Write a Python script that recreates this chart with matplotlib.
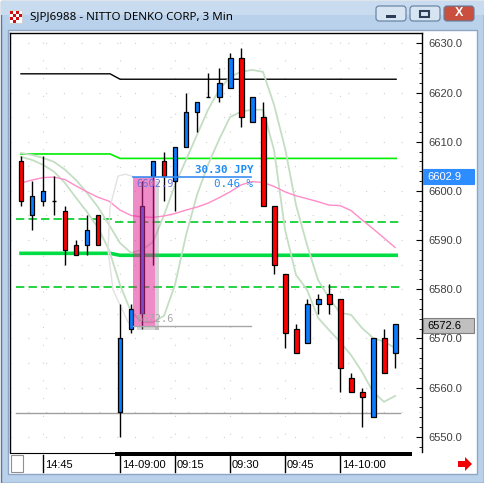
import matplotlib.pyplot as plt
from matplotlib.patches import Rectangle, FancyBboxPatch, Polygon
import matplotlib.transforms as mtransforms

plt.rcParams['font.family'] = ['Liberation Sans', 'DejaVu Sans']

title = 'SJPJ6988 - NITTO DENKO CORP, 3 Min'

# 3 min candles (slot 8 is the overnight gap)
bar_idx = [0, 1, 2, 3, 4, 5, 6, 7,
           9, 10, 11, 12, 13, 14, 15, 16, 17, 18, 19, 20, 21,
           22, 23, 24, 25, 26, 27, 28, 29, 30, 31, 32, 33, 34]
opens = [6606, 6595, 6598, 6598, 6596, 6589, 6589, 6595,
         6555, 6572, 6575, 6603, 6606, 6602, 6609, 6616, 6619, 6619, 6621, 6627, 6614,
         6615, 6597, 6583, 6572, 6569, 6577, 6579, 6578, 6562, 6559, 6554, 6570, 6567]
highs = [6607, 6602, 6607, 6603, 6597, 6590, 6595, 6595,
         6577, 6577, 6602, 6606, 6608, 6609, 6620, 6618, 6624, 6625, 6628, 6629, 6619,
         6618, 6597, 6583, 6573, 6578, 6579, 6581, 6578, 6563, 6560, 6570, 6572, 6573]
lows = [6597, 6592, 6597, 6595, 6585, 6587, 6587, 6589,
        6550, 6571, 6572, 6585, 6598, 6596, 6609, 6612, 6619, 6618, 6621, 6613, 6614,
        6597, 6583, 6568, 6567, 6569, 6575, 6575, 6559, 6559, 6552, 6554, 6563, 6564]
closes = [6598, 6599, 6600, 6598, 6588, 6587, 6592, 6589,
          6570, 6576, 6597, 6606, 6603, 6609, 6616, 6618, 6619, 6622, 6627, 6615, 6619,
          6597, 6585, 6571, 6567, 6577, 6578, 6577, 6564, 6559, 6558, 6570, 6563, 6573]

line_idx = list(range(35))
ma_pink = [6601.6, 6602.2, 6602.7, 6602.8, 6602.3, 6601.0, 6599.8, 6598.7, 6597.9,
           6596.1, 6595.0, 6594.7, 6594.6, 6594.9, 6595.4, 6596.1, 6596.7, 6597.5,
           6598.6, 6599.8, 6601.2, 6601.9, 6601.7, 6600.9, 6599.8, 6599.0, 6598.4,
           6597.8, 6597.1, 6597.0, 6596.0, 6594.1, 6592.3, 6590.4, 6588.5]
ma_fast = [6607.7, 6607.3, 6606.7, 6605.9, 6604.3, 6602.2, 6599.6, 6596.7, 6593.1,
           6589.4, 6587.4, 6588.0, 6589.6, 6595.1, 6601.2, 6606.3, 6611.4, 6616.5,
           6620.5, 6623.2, 6624.2, 6624.6, 6624.2, 6617.5, 6608.7, 6597.1, 6589.0,
           6581.9, 6578.2, 6575.2, 6574.8, 6572.1, 6570.1, 6569.3, 6568.1]
ma_slow = [6606.9, 6606.3, 6605.3, 6603.9, 6601.6, 6598.6, 6595.7, 6592.5, 6588.0,
           6580.9, 6575.4, 6573.3, 6573.3, 6574.6, 6580.9, 6591.0, 6599.2, 6605.3,
           6610.4, 6615.0, 6616.1, 6616.5, 6616.5, 6608.3, 6592.1, 6582.9, 6579.9,
           6574.2, 6571.7, 6569.3, 6566.6, 6563.2, 6559.1, 6557.1, 6558.3]
arc_x = [10.18, 9.5, 8.82, 8.09, 7.91, 8.36, 9.73, 10.18]
arc_y = [6602.9, 6603.4, 6603.0, 6596.7, 6588.0, 6579.9, 6573.3, 6572.7]

# pivot style levels: previous session / today
level_prev = [6623.8, 6607.5, 6594.2, 6587.3]
level_today = [6622.7, 6606.6, 6593.7, 6586.9]
level_dash_low = 6580.4
level_gray = 6554.8

measure_hi = 6602.9
measure_lo = 6572.6
measure_txt = ['30.30 JPY', '0.46 %']

tick_pos = [2, 9, 14, 19, 24, 29]
tick_labels = ['14:45', '14-09:00', '09:15', '09:30', '09:45', '14-10:00']
y_ticks = [6550, 6560, 6570, 6580, 6590, 6600, 6610, 6620, 6630]

W, H = 485, 483
fig = plt.figure(figsize=(W / 100, H / 100), dpi=100)

# window chrome drawn in pixel coords
bg = fig.add_axes([0, 0, 1, 1], zorder=-1)
bg.set_xlim(0, W)
bg.set_ylim(H, 0)
bg.axis('off')
bg.add_patch(Rectangle((0.5, 0.5), W - 1, H - 1, fc='#B9D1EA', ec='#5B7897', lw=1))
bg.add_patch(Rectangle((1, 1), W - 2, 14, fc='#C9DBEF', ec='none'))
bg.add_patch(Rectangle((8, 30), 469, 444, fc='white', ec='#8EA6C4', lw=1))
bg.text(30, 17, title, fontsize=8.3, family=['Noto Sans', 'DejaVu Sans'], va='center', ha='left', color='black')
# icon
bg.add_patch(Rectangle((9, 10), 13, 13, fc='white', ec='#C8C8C8', lw=0.5))
for (ix, iy) in [(10, 11), (16, 11), (13, 14), (10, 17), (16, 17), (13, 20), (19, 14)]:
    bg.add_patch(Rectangle((ix, iy), 3, 2.5, fc='#D01010', ec='none'))
# buttons
for bx, fc in [(376, '#D7E4F2'), (410, '#D7E4F2'), (444, '#C9503F')]:
    bg.add_patch(FancyBboxPatch((bx, 6), 30, 15, boxstyle='round,pad=0,rounding_size=3',
                                fc=fc, ec='#5F7D9E', lw=0.8))
bg.add_patch(Rectangle((386, 15), 10, 2.5, fc='#2C3E55', ec='none'))
bg.add_patch(Rectangle((420.5, 10.5), 9, 6, fc='none', ec='#2C3E55', lw=1.5))
bg.text(459, 13.5, 'X', fontsize=9, fontweight='bold', color='white', ha='center', va='center')
# bottom left box, scrollbar, red arrow
bg.add_patch(Rectangle((11, 455), 12, 17, fc='white', ec='#909090', lw=0.8))
bg.add_patch(Rectangle((115, 452), 297, 3.5, fc='black', ec='none'))
bg.plot([10, 115], [452.5, 452.5], color='black', lw=0.8)
bg.add_patch(Polygon([(458, 461), (465, 461), (465, 457), (472, 464), (465, 471), (465, 467), (458, 467)],
                     closed=True, fc='#F00000', ec='none'))

# chart axes
ax = fig.add_axes([10 / W, 1 - 452 / H, 412 / W, 419 / H], zorder=1)
ax.set_facecolor('white')
ax.set_xlim(-1, 36.45)
ax.set_ylim(6546.9, 6632.1)
for s in ['left', 'top', 'right']:
    ax.spines[s].set_color('black')
    ax.spines[s].set_linewidth(1)
ax.spines['bottom'].set_visible(False)

# dotted grid
for v in range(6550, 6631, 5):
    ax.axhline(v, color='#CFCFCF', lw=0.8, ls=(0, (1, 15)), zorder=0)
for t in tick_pos:
    ax.axvline(t, color='#CFCFCF', lw=0.8, ls=(0, (1, 15)), zorder=0)

# pivot levels
sx_l, sx_m, sx_r = 0, 8.1, 34.1
ax.plot([sx_l, sx_m, 9, sx_r], [level_prev[0], level_prev[0], level_today[0], level_today[0]],
        color='black', lw=1, zorder=2)
ax.plot([sx_l, sx_m, 9, sx_r], [level_prev[1], level_prev[1], level_today[1], level_today[1]],
        color='#00EE00', lw=1.2, zorder=2)
ax.plot([sx_l, sx_m, 9, sx_r], [level_prev[3], level_prev[3], level_today[3], level_today[3]],
        color='#00DD44', lw=2.6, zorder=2)
ax.plot([-0.45, 8.36], [level_prev[2]] * 2, color='#00CC22', lw=1.2, ls=(0, (5, 2.5)), zorder=2)
ax.plot([8.55, 34.45], [level_today[2]] * 2, color='#00CC22', lw=1.2, ls=(0, (5, 2.5)), zorder=2)
ax.plot([-0.45, 34.45], [level_dash_low] * 2, color='#00CC22', lw=1.2, ls=(0, (5, 2.5)), zorder=2)
ax.plot([-0.45, 34.45], [level_gray] * 2, color='#A0A0A0', lw=1, zorder=2)

# averages
ax.plot(line_idx, ma_fast, color='#C4DEC4', lw=1.3, zorder=2)
ax.plot(line_idx, ma_slow, color='#C4DEC4', lw=1.3, zorder=2)
ax.plot(line_idx, ma_pink, color='#FF8CC8', lw=1, zorder=2)
ax.plot(arc_x, arc_y, color='#E2E2E2', lw=1, zorder=2)

# candles
bw = 0.45
for i, o, h, l, c in zip(bar_idx, opens, highs, lows, closes):
    ax.vlines(i, l, h, color='black', lw=1, zorder=3)
    if o == c:
        ax.hlines(o, i - bw / 2, i + bw / 2, color='black', lw=1, zorder=4)
    else:
        col = '#0A7CFF' if c > o else '#FF0000'
        ax.bar(i, abs(c - o), bottom=min(o, c), width=bw, color=col,
               edgecolor='black', lw=0.9, zorder=4)

# measurement highlight with a soft drop shadow
mx0, mx1 = 10.18, 12.18
sdx, sdy = 0.35, 0.9
ax.add_patch(Rectangle((mx1, measure_lo - sdy), sdx, measure_hi - measure_lo,
                       fc='#8C8C8C', ec='none', alpha=0.35, zorder=5))
ax.add_patch(Rectangle((mx0 + sdx, measure_lo - sdy), mx1 - mx0, sdy,
                       fc='#8C8C8C', ec='none', alpha=0.35, zorder=5))
ax.add_patch(Rectangle((mx0, measure_lo), mx1 - mx0, measure_hi - measure_lo,
                       fc='#E22195', ec='none', alpha=0.52, zorder=6))
ax.plot([mx0, 20.9], [measure_hi] * 2, color='#3A8CF2', lw=1.2, zorder=7)
ax.plot([mx0, 20.9], [measure_lo] * 2, color='#A8A8A8', lw=1, zorder=7)
mono = ['DejaVu Sans Mono']
ax.text(mx0 + 0.3, measure_hi - 0.4, f'{measure_hi:.1f}', family=mono, fontsize=7.5,
        color='#6F6FDA', ha='left', va='top', zorder=8)
ax.text(mx0 + 0.3, measure_lo + 0.3, f'{measure_lo:.1f}', family=mono, fontsize=7.5,
        color='#A8A8A8', ha='left', va='bottom', zorder=8)
ax.text(21.1, measure_hi + 0.4, measure_txt[0], family=mono, fontsize=7.8, fontweight='bold',
        color='#1F8CF5', ha='right', va='bottom', zorder=8)
ax.text(21.1, measure_hi - 0.4, measure_txt[1], family=mono, fontsize=7.8,
        color='#1F8CF5', ha='right', va='top', zorder=8)

# right price axis
ax.yaxis.tick_right()
ax.set_yticks(y_ticks)
ax.set_yticklabels([f'{v:.1f}' for v in y_ticks])
ax.set_yticks(range(6548, 6632, 2), minor=True)
ax.tick_params(axis='y', which='major', direction='in', length=4, width=0.8, pad=4.5,
               labelsize=8, labelcolor='#404040')
ax.tick_params(axis='y', which='minor', direction='in', length=2, width=0.6)
ax.set_xticks([])

bt = mtransforms.blended_transform_factory(ax.transAxes, ax.transData)
for val, fc, ec, tc in [(measure_hi, '#2D8CFF', '#2D8CFF', 'white'), (measure_lo, '#C0C0C0', '#808080', 'black')]:
    ax.add_patch(Rectangle((1.003, val - 1.6), 0.124, 3.2, transform=bt, fc=fc, ec=ec,
                           lw=0.8, clip_on=False, zorder=9))
    ax.text(1.0135, val, f'{val:.1f}', transform=bt, fontsize=8, color=tc,
            ha='left', va='center', clip_on=False, zorder=10)

# time axis
tt = mtransforms.blended_transform_factory(ax.transData, ax.transAxes)
for t, lab in zip(tick_pos, tick_labels):
    ax.plot([t, t], [-3 / 419, -20 / 419], transform=tt, color='black', lw=1, clip_on=False)
    ax.text(t + 0.18, -13 / 419, lab, transform=tt, fontsize=8, color='black',
            ha='left', va='center', clip_on=False)

fig.savefig('out.png', dpi=100)
